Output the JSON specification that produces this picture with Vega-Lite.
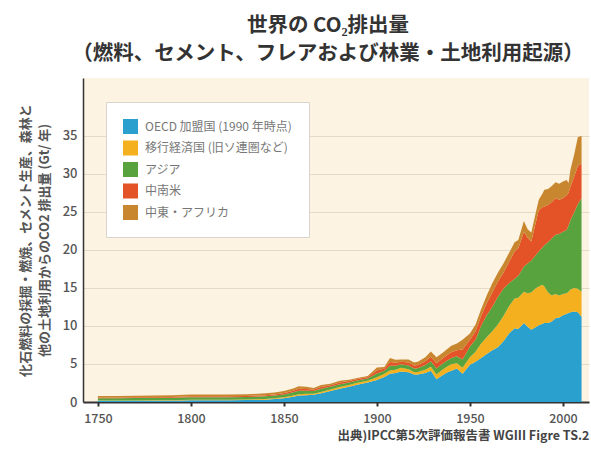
{
  "$schema": "https://vega.github.io/schema/vega-lite/v6.json",
  "width": 506,
  "height": 324,
  "autosize": {"type": "none"},
  "padding": {"left": 83, "top": 78, "right": 2, "bottom": 48},
  "background": "white",
  "title": {
    "text": ["世界の CO₂排出量", "（燃料、セメント、フレアおよび林業・土地利用起源）"],
    "anchor": "middle",
    "frame": "group",
    "dx": -8,
    "offset": 14,
    "font": "Noto Sans CJK JP",
    "fontSize": 20.5,
    "fontWeight": "bold",
    "color": "#333333",
    "lineHeight": 28
  },
  "config": {
    "view": {"fill": "#fcf3e3", "stroke": null},
    "font": "Noto Sans CJK JP"
  },
  "datasets": {
    "regions": [
      {"key": "oecd", "rank": 1, "label": "OECD 加盟国 (1990 年時点)"},
      {"key": "eit", "rank": 2, "label": "移行経済国 (旧ソ連圏など)"},
      {"key": "asia", "rank": 3, "label": "アジア"},
      {"key": "latam", "rank": 4, "label": "中南米"},
      {"key": "mea", "rank": 5, "label": "中東・アフリカ"}
    ],
    "emissions": [
      {"year": 1750, "oecd": 0.15, "eit": 0.05, "asia": 0.3, "latam": 0.1, "mea": 0.2},
      {"year": 1760, "oecd": 0.15, "eit": 0.05, "asia": 0.3, "latam": 0.1, "mea": 0.2},
      {"year": 1770, "oecd": 0.16, "eit": 0.05, "asia": 0.31, "latam": 0.1, "mea": 0.2},
      {"year": 1780, "oecd": 0.17, "eit": 0.05, "asia": 0.31, "latam": 0.11, "mea": 0.2},
      {"year": 1790, "oecd": 0.18, "eit": 0.06, "asia": 0.32, "latam": 0.11, "mea": 0.21},
      {"year": 1800, "oecd": 0.22, "eit": 0.07, "asia": 0.35, "latam": 0.12, "mea": 0.24},
      {"year": 1810, "oecd": 0.22, "eit": 0.07, "asia": 0.34, "latam": 0.12, "mea": 0.24},
      {"year": 1820, "oecd": 0.23, "eit": 0.07, "asia": 0.33, "latam": 0.12, "mea": 0.22},
      {"year": 1830, "oecd": 0.26, "eit": 0.08, "asia": 0.33, "latam": 0.13, "mea": 0.22},
      {"year": 1840, "oecd": 0.3, "eit": 0.09, "asia": 0.35, "latam": 0.15, "mea": 0.25},
      {"year": 1845, "oecd": 0.38, "eit": 0.1, "asia": 0.36, "latam": 0.16, "mea": 0.26},
      {"year": 1850, "oecd": 0.5, "eit": 0.12, "asia": 0.38, "latam": 0.18, "mea": 0.27},
      {"year": 1855, "oecd": 0.7, "eit": 0.15, "asia": 0.42, "latam": 0.22, "mea": 0.3},
      {"year": 1858, "oecd": 0.85, "eit": 0.17, "asia": 0.45, "latam": 0.26, "mea": 0.33},
      {"year": 1862, "oecd": 0.9, "eit": 0.17, "asia": 0.42, "latam": 0.22, "mea": 0.3},
      {"year": 1866, "oecd": 0.95, "eit": 0.15, "asia": 0.35, "latam": 0.18, "mea": 0.2},
      {"year": 1870, "oecd": 1.15, "eit": 0.17, "asia": 0.42, "latam": 0.22, "mea": 0.28},
      {"year": 1875, "oecd": 1.45, "eit": 0.2, "asia": 0.35, "latam": 0.2, "mea": 0.2},
      {"year": 1880, "oecd": 1.75, "eit": 0.22, "asia": 0.35, "latam": 0.25, "mea": 0.23},
      {"year": 1885, "oecd": 2.0, "eit": 0.25, "asia": 0.3, "latam": 0.2, "mea": 0.18},
      {"year": 1890, "oecd": 2.3, "eit": 0.25, "asia": 0.3, "latam": 0.2, "mea": 0.15},
      {"year": 1895, "oecd": 2.55, "eit": 0.25, "asia": 0.28, "latam": 0.2, "mea": 0.15},
      {"year": 1900, "oecd": 2.9, "eit": 0.35, "asia": 0.5, "latam": 0.4, "mea": 0.4},
      {"year": 1904, "oecd": 3.3, "eit": 0.4, "asia": 0.4, "latam": 0.3, "mea": 0.2},
      {"year": 1907, "oecd": 3.7, "eit": 0.45, "asia": 0.6, "latam": 0.5, "mea": 0.55},
      {"year": 1910, "oecd": 3.8, "eit": 0.45, "asia": 0.5, "latam": 0.4, "mea": 0.4},
      {"year": 1913, "oecd": 4.0, "eit": 0.5, "asia": 0.45, "latam": 0.35, "mea": 0.3},
      {"year": 1917, "oecd": 3.9, "eit": 0.4, "asia": 0.5, "latam": 0.4, "mea": 0.4},
      {"year": 1920, "oecd": 3.6, "eit": 0.3, "asia": 0.5, "latam": 0.4, "mea": 0.4},
      {"year": 1922, "oecd": 3.6, "eit": 0.35, "asia": 0.5, "latam": 0.4, "mea": 0.45},
      {"year": 1926, "oecd": 3.8, "eit": 0.45, "asia": 0.6, "latam": 0.5, "mea": 0.55},
      {"year": 1929, "oecd": 4.1, "eit": 0.55, "asia": 0.7, "latam": 0.6, "mea": 0.7},
      {"year": 1932, "oecd": 3.0, "eit": 0.6, "asia": 0.8, "latam": 0.7, "mea": 0.8},
      {"year": 1935, "oecd": 3.5, "eit": 0.7, "asia": 0.8, "latam": 0.65, "mea": 0.75},
      {"year": 1938, "oecd": 3.9, "eit": 0.8, "asia": 0.8, "latam": 0.7, "mea": 0.8},
      {"year": 1940, "oecd": 4.1, "eit": 0.85, "asia": 0.85, "latam": 0.75, "mea": 0.85},
      {"year": 1943, "oecd": 4.4, "eit": 0.7, "asia": 0.9, "latam": 0.8, "mea": 0.9},
      {"year": 1946, "oecd": 3.7, "eit": 0.8, "asia": 1.1, "latam": 1.3, "mea": 1.3},
      {"year": 1950, "oecd": 4.9, "eit": 1.0, "asia": 1.4, "latam": 0.9, "mea": 0.8},
      {"year": 1953, "oecd": 5.3, "eit": 1.3, "asia": 1.6, "latam": 1.1, "mea": 0.9},
      {"year": 1956, "oecd": 5.8, "eit": 1.9, "asia": 2.3, "latam": 1.3, "mea": 0.9},
      {"year": 1959, "oecd": 6.3, "eit": 2.2, "asia": 2.9, "latam": 1.6, "mea": 1.0},
      {"year": 1962, "oecd": 6.8, "eit": 2.5, "asia": 3.2, "latam": 1.9, "mea": 1.2},
      {"year": 1965, "oecd": 7.2, "eit": 3.0, "asia": 3.6, "latam": 2.0, "mea": 1.2},
      {"year": 1968, "oecd": 8.0, "eit": 3.3, "asia": 3.6, "latam": 2.1, "mea": 1.2},
      {"year": 1971, "oecd": 9.0, "eit": 3.6, "asia": 3.0, "latam": 2.8, "mea": 1.2},
      {"year": 1974, "oecd": 9.7, "eit": 3.9, "asia": 2.6, "latam": 3.6, "mea": 1.2},
      {"year": 1976, "oecd": 9.6, "eit": 4.1, "asia": 2.9, "latam": 3.6, "mea": 1.1},
      {"year": 1979, "oecd": 10.4, "eit": 4.1, "asia": 3.3, "latam": 4.6, "mea": 1.4},
      {"year": 1981, "oecd": 9.9, "eit": 4.4, "asia": 3.9, "latam": 3.4, "mea": 1.1},
      {"year": 1983, "oecd": 9.5, "eit": 4.9, "asia": 4.2, "latam": 2.5, "mea": 1.2},
      {"year": 1985, "oecd": 9.8, "eit": 5.1, "asia": 4.3, "latam": 4.0, "mea": 1.3},
      {"year": 1987, "oecd": 10.1, "eit": 5.1, "asia": 4.6, "latam": 5.4, "mea": 1.4},
      {"year": 1989, "oecd": 10.3, "eit": 5.1, "asia": 4.9, "latam": 5.3, "mea": 1.8},
      {"year": 1990, "oecd": 10.4, "eit": 4.8, "asia": 5.4, "latam": 5.1, "mea": 2.2},
      {"year": 1992, "oecd": 10.4, "eit": 4.0, "asia": 6.6, "latam": 4.9, "mea": 2.1},
      {"year": 1994, "oecd": 10.6, "eit": 3.4, "asia": 7.5, "latam": 4.8, "mea": 2.1},
      {"year": 1996, "oecd": 11.0, "eit": 3.2, "asia": 7.8, "latam": 4.8, "mea": 2.1},
      {"year": 1998, "oecd": 11.1, "eit": 2.9, "asia": 8.1, "latam": 4.5, "mea": 2.1},
      {"year": 2000, "oecd": 11.4, "eit": 2.8, "asia": 8.2, "latam": 4.4, "mea": 2.2},
      {"year": 2002, "oecd": 11.6, "eit": 2.7, "asia": 8.3, "latam": 4.6, "mea": 2.0},
      {"year": 2003, "oecd": 11.7, "eit": 2.8, "asia": 8.7, "latam": 4.3, "mea": 1.3},
      {"year": 2004, "oecd": 11.8, "eit": 3.0, "asia": 9.1, "latam": 4.4, "mea": 2.2},
      {"year": 2006, "oecd": 11.9, "eit": 3.1, "asia": 9.9, "latam": 4.7, "mea": 2.9},
      {"year": 2008, "oecd": 11.8, "eit": 3.1, "asia": 11.1, "latam": 5.0, "mea": 3.8},
      {"year": 2010, "oecd": 11.2, "eit": 3.3, "asia": 12.3, "latam": 4.6, "mea": 3.6}
    ]
  },
  "data": {"name": "emissions"},
  "transform": [
    {"fold": ["oecd", "eit", "asia", "latam", "mea"], "as": ["key", "co2"]},
    {"lookup": "key", "from": {"data": {"name": "regions"}, "key": "key", "fields": ["rank", "label"]}}
  ],
  "mark": {"type": "area", "interpolate": "linear"},
  "encoding": {
    "x": {
      "field": "year",
      "type": "quantitative",
      "scale": {"domain": [1742, 2014], "nice": false, "zero": false},
      "axis": {
        "values": [1750, 1800, 1850, 1900, 1950, 2000],
        "format": "d",
        "grid": false,
        "domainColor": "#333333",
        "domainWidth": 2,
        "tickColor": "#333333",
        "tickWidth": 2,
        "tickSize": 4,
        "labelFontSize": 12.5,
        "labelFontWeight": 500,
        "labelColor": "#555555",
        "labelPadding": 6,
        "labelFlush": false,
        "title": "出典)IPCC第5次評価報告書 WGIII Figre TS.2",
        "titleAnchor": "end",
        "titleFontSize": 12.5,
        "titleFontWeight": "bold",
        "titleColor": "#444444",
        "titlePadding": 5
      }
    },
    "y": {
      "field": "co2",
      "type": "quantitative",
      "stack": "zero",
      "scale": {"domain": [0, 42.6], "nice": false},
      "axis": {
        "values": [0, 5, 10, 15, 20, 25, 30, 35],
        "grid": true,
        "gridColor": "#e4dac8",
        "gridWidth": 1.2,
        "ticks": false,
        "domainColor": "#333333",
        "domainWidth": 1.5,
        "labelFontSize": 13,
        "labelFontWeight": 500,
        "labelColor": "#555555",
        "labelPadding": 6,
        "title": ["化石燃料の採掘・燃焼、セメント生産、森林と", "他の土地利用からのCO2 排出量 (Gt/ 年)"],
        "titleFontSize": 13,
        "titleFontWeight": "bold",
        "titleColor": "#555555",
        "titleLineHeight": 19,
        "titlePadding": 11
      }
    },
    "color": {
      "field": "label",
      "type": "nominal",
      "scale": {
        "domain": ["OECD 加盟国 (1990 年時点)", "移行経済国 (旧ソ連圏など)", "アジア", "中南米", "中東・アフリカ"],
        "range": ["#2aa0cf", "#f4b01e", "#59a33f", "#e35327", "#c8872f"]
      },
      "legend": {
        "title": null,
        "orient": "none",
        "legendX": 23,
        "legendY": 24,
        "fillColor": "white",
        "strokeColor": "#d9d4cc",
        "padding": 17,
        "symbolType": "square",
        "symbolSize": 225,
        "symbolStrokeWidth": 0,
        "labelFontSize": 12,
        "labelColor": "#777777",
        "labelOffset": 7,
        "labelLimit": 300,
        "rowPadding": 6.5
      }
    },
    "order": {"field": "rank", "type": "quantitative", "sort": "ascending"}
  }
}
